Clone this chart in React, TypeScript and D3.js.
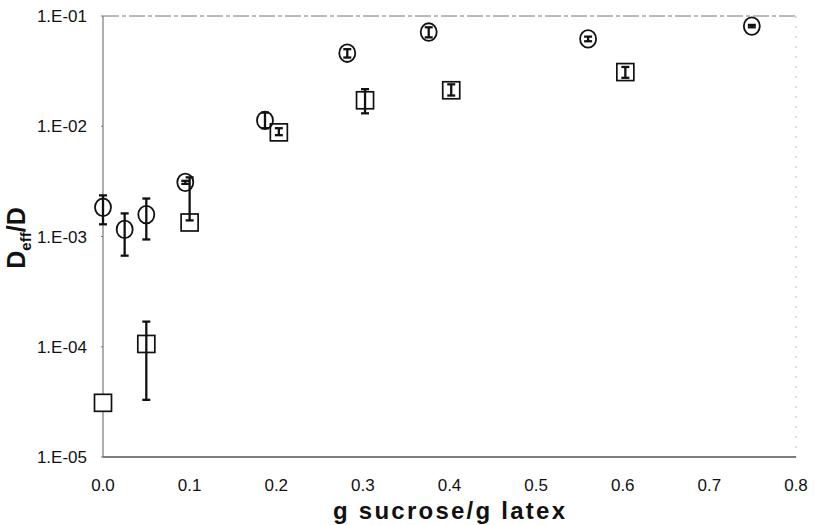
import React from "react";
import * as d3 from "d3";

const circleX = [0.0, 0.025, 0.05, 0.095, 0.187, 0.282, 0.376, 0.56, 0.749];
const circleY = [1.84e-3, 1.16e-3, 1.58e-3, 3.1e-3, 1.13e-2, 4.6e-2, 7.15e-2, 6.2e-2, 8.1e-2];
const circleLo = [1.29e-3, 6.7e-4, 9.4e-4, 3.0e-3, 9.6e-3, 4.2e-2, 6.4e-2, 5.9e-2, 7.9e-2];
const circleHi = [2.36e-3, 1.62e-3, 2.21e-3, 3.2e-3, 1.33e-2, 5.0e-2, 7.9e-2, 6.5e-2, 8.3e-2];

const squareX = [0.0, 0.05, 0.1, 0.203, 0.3025, 0.402, 0.603];
const squareY = [3.1e-5, 1.06e-4, 1.34e-3, 8.8e-3, 1.72e-2, 2.12e-2, 3.1e-2];
const squareLo = [3.1e-5, 3.3e-5, 1.4e-3, 8.3e-3, 1.31e-2, 1.9e-2, 2.75e-2];
const squareHi = [3.1e-5, 1.69e-4, 3.44e-3, 9.6e-3, 2.17e-2, 2.4e-2, 3.45e-2];

const xTicks = [0, 0.1, 0.2, 0.3, 0.4, 0.5, 0.6, 0.7, 0.8];
const yTicks = [1e-5, 1e-4, 1e-3, 1e-2, 1e-1];
const yTickLabels = ["1.E-05", "1.E-04", "1.E-03", "1.E-02", "1.E-01"];

const W = 815, H = 525;
const L = 103, R = 796, T = 16, B = 457;

export default function App() {
  const x = d3.scaleLinear().domain([0, 0.8]).range([L, R]);
  const y = d3.scaleLog().domain([1e-5, 1e-1]).range([B, T]);
  const font = "'Liberation Sans', Arial, sans-serif";
  const cap = 4;

  const errBar = (xv: number, lo: number, hi: number, key: string) => {
    const px = x(xv);
    return (
      <g key={key} stroke="#111" strokeWidth={2.3}>
        <line x1={px} x2={px} y1={y(lo)} y2={y(hi)} />
        <line x1={px - cap} x2={px + cap} y1={y(lo)} y2={y(lo)} />
        <line x1={px - cap} x2={px + cap} y1={y(hi)} y2={y(hi)} />
      </g>
    );
  };

  return (
    <svg width={W} height={H} style={{ position: "absolute", left: 0, top: 0, background: "#fff" }}>
      <rect x={0} y={0} width={W} height={H} fill="#fff" />
      {/* frame */}
      <line x1={L} x2={R} y1={T} y2={T} stroke="#777" strokeWidth={1} strokeDasharray="16 3 4 3" />
      <line x1={R} x2={R} y1={T} y2={B} stroke="#bbb" strokeWidth={1} strokeDasharray="2 8" />
      <line x1={L} x2={L} y1={T} y2={B} stroke="#777" strokeWidth={1.2} />
      <line x1={L} x2={R} y1={B} y2={B} stroke="#555" strokeWidth={1.4} />
      {yTicks.map((t, i) => (
        <g key={"yt" + i}>
          <line x1={L - 2} x2={L} y1={y(t)} y2={y(t)} stroke="#777" />
          <text x={87} y={y(t)} dy="0.36em" textAnchor="end" fontFamily={font} fontSize={17} fill="#111">
            {yTickLabels[i]}
          </text>
        </g>
      ))}
      {xTicks.map((t, i) => (
        <text key={"xt" + i} x={x(t)} y={491} textAnchor="middle" fontFamily={font} fontSize={17} fill="#111">
          {t.toFixed(1)}
        </text>
      ))}
      <text x={449} y={519} textAnchor="middle" fontFamily={font} fontSize={24} fontWeight="bold" fill="#111"
        textLength={232} lengthAdjust="spacing">
        g sucrose/g latex
      </text>
      <text transform="translate(25,238) rotate(-90)" textAnchor="middle" fontFamily={font} fontSize={25} fontWeight="bold" fill="#111">
        D<tspan fontSize={15} dy={6}>eff</tspan><tspan dy={-6}>/D</tspan>
      </text>
      {/* squares */}
      {squareX.map((v, i) => (
        <rect key={"s" + i} x={x(v) - 8.5} y={y(squareY[i]) - 8.5} width={17} height={17} fill="#fff" stroke="#111" strokeWidth={1.7} />
      ))}
      {squareX.map((v, i) => (squareHi[i] > squareLo[i] ? errBar(v, squareLo[i], squareHi[i], "se" + i) : null))}
      {/* circles */}
      {circleX.map((v, i) => (
        <ellipse key={"c" + i} cx={x(v)} cy={y(circleY[i])} rx={8} ry={8.8} fill="none" stroke="#111" strokeWidth={1.8} />
      ))}
      {circleX.map((v, i) => errBar(v, circleLo[i], circleHi[i], "ce" + i))}
    </svg>
  );
}
